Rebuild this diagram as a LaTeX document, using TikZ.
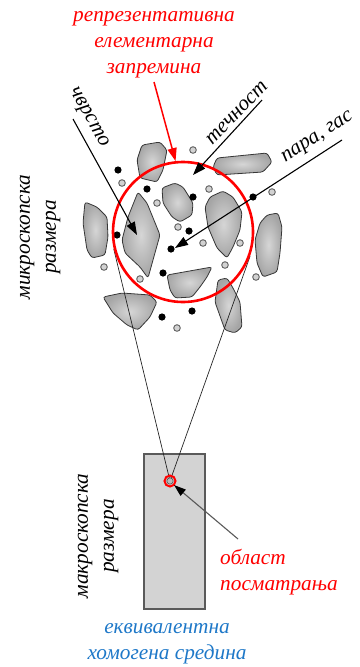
\documentclass[tikz,border=0pt]{standalone}
\usepackage{fontspec}
\setmainfont{Liberation Serif}
\usetikzlibrary{arrows.meta,calc}
\definecolor{ekvblue}{RGB}{30,120,200}
\definecolor{grainin}{RGB}{214,214,214}
\definecolor{grainout}{RGB}{165,165,165}
\definecolor{grainline}{RGB}{55,55,55}
\definecolor{bodyfill}{RGB}{211,211,211}
\definecolor{bodyline}{RGB}{90,90,90}
\tikzset{
  lbl/.style={font=\fontsize{21.3}{26}\selectfont\itshape, inner sep=1pt},
  grain/.style={shading=radial, inner color=grainin, outer color=grainout,
                draw=grainline, line width=0.8pt, rounded corners=2.5pt},
  fulldot/.style={fill=black, draw=none},
  ringdot/.style={fill=gray!35, draw=gray!75!black, line width=0.9pt},
  pointer/.style={line width=1.1pt, -{Triangle[length=13pt,width=9pt]}},
  tangentline/.style={draw=black!85, line width=0.7pt},
}
\begin{document}
\begin{tikzpicture}[x=1pt,y=-1pt]
\useasboundingbox (0,0) rectangle (359,667);

% grains of the solid phase
\shadedraw[grain] (142,145) -- (160,142) -- (167,150) -- (163,170) -- (157,182) -- (140,178) -- (137,160) -- cycle;
\shadedraw[grain] (217,158) -- (267,153) -- (272,162) -- (263,172) -- (217,175) -- (213,167) -- cycle;
\shadedraw[grain] (162,188) -- (175,183) -- (183,187) -- (193,203) -- (192,215) -- (180,222) -- (172,217) -- (163,203) -- cycle;
\shadedraw[grain] (138,192) -- (147,203) -- (160,235) -- (153,260) -- (148,278) -- (140,267) -- (125,253) -- (122,240) -- (128,217) -- cycle;
\shadedraw[grain] (210,197) -- (223,191) -- (233,197) -- (242,212) -- (240,230) -- (233,247) -- (227,258) -- (217,248) -- (208,227) -- (205,207) -- cycle;
\shadedraw[grain] (267,215) -- (278,213) -- (282,227) -- (280,253) -- (277,272) -- (263,277) -- (257,263) -- (255,240) -- (260,223) -- cycle;
\shadedraw[grain] (85,202) -- (97,207) -- (107,217) -- (108,237) -- (105,255) -- (92,258) -- (87,250) -- (83,223) -- cycle;
\shadedraw[grain] (167,275) -- (212,267) -- (207,277) -- (200,287) -- (192,297) -- (175,298) -- (170,290) -- cycle;
\shadedraw[grain] (103,297) -- (122,293) -- (150,295) -- (157,302) -- (150,317) -- (138,330) -- (127,325) -- (113,313) -- cycle;
\shadedraw[grain] (218,280) -- (227,278) -- (233,288) -- (240,302) -- (242,327) -- (235,333) -- (225,330) -- (215,302) -- cycle;

% gas bubbles and liquid droplets
\foreach \p in {(118,170),(147,189),(193,197),(253,197),(117,235),(189,231),(171,249),(163,273),(192,311),(162,317)}
  \fill[fulldot] \p circle[radius=3.6];
\foreach \p in {(193,150),(122,183),(157,203),(209,189),(178,227),(203,243),(240,243),(104,267),(225,265),(140,279),(256,277),(177,328),(272,192)}
  \filldraw[ringdot] \p circle[radius=3.3];

% equivalent homogeneous body
\node[draw=bodyline, fill=bodyfill, line width=1.1pt,
      minimum width=61pt, minimum height=155pt, inner sep=0, outer sep=0] (body) at (174.5,531.5) {};

% representative elementary volume and observation point
\node[circle, line width=2.6pt, minimum size=140pt, inner sep=0] (rev) at (183,232) {};
\node[circle, minimum size=11pt, inner sep=0] (obs) at (170,481) {};
\coordinate (tanA) at (tangent cs:node=rev,point={(obs.center)},solution=1);
\coordinate (tanB) at (tangent cs:node=rev,point={(obs.center)},solution=2);
\draw[tangentline] (obs.center) -- (tanA);
\draw[tangentline] (obs.center) -- (tanB);
\draw[red, line width=2.6pt] (rev.center) circle[radius=70];
\filldraw[fill=gray!55, draw=gray!60!black, line width=0.6pt] (obs.center) circle[radius=3.2];
\draw[red, line width=2pt] (obs.center) circle[radius=5.5];

% labels
\node[lbl, red, align=center] (revlbl) at (154,45) {репрезентативна\\елементарна\\запремина};
\node[lbl, rotate=-61] (solid) at (88,118) {чврсто};
\node[lbl, rotate=46] (liquid) at (237,113) {течност};
\node[lbl, rotate=33] (gas) at (318,138) {пара, гас};
\node[lbl, rotate=90, align=center] (micro) at (40,237) {микроскопска\\размера};
\node[lbl, rotate=90, align=center] (macro) at (98,536) {макроскопска\\размера};
\node[lbl, red, align=left, anchor=west] (obslbl) at (219,572.5) {област\\посматрања};
\node[lbl, ekvblue, align=center] (ekvlbl) at (167,644) {еквивалентна\\хомогена средина};

% pointers
\coordinate (revsrc) at (154,82);
\coordinate (solidsrc) at (73,119);
\coordinate (solidtip) at (137,235);
\coordinate (liquidsrc) at (262,100);
\coordinate (liquidtip) at (193,175);
\coordinate (gassrc) at (342,140);
\coordinate (gastip) at (175,248);
\coordinate (obssrc) at (238,539);
\draw[red, line width=1.5pt, -{Triangle[length=13pt,width=9pt]}] (revsrc) -- (rev.96);
\draw[pointer] (solidsrc) -- (solidtip);
\draw[pointer] (liquidsrc) -- (liquidtip);
\draw[pointer] (gassrc) -- (gastip);
\draw[draw=gray!70!black, line width=1.1pt, -{Triangle[length=12pt,width=8pt,color=black]}] (obssrc) -- (obs.south east);
\end{tikzpicture}
\end{document}
